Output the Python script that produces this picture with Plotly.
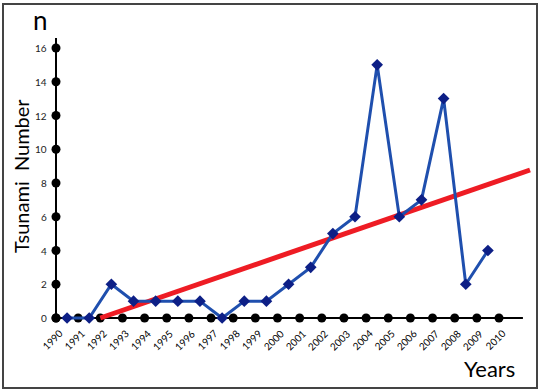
import plotly.graph_objects as go

# ---- data ----
axis_years = list(range(1990, 2011))
y_ticks = [0, 2, 4, 6, 8, 10, 12, 14, 16]
point_years = [1990.5, 1991.5, 1992.5, 1993.5, 1994.5, 1995.5, 1996.5, 1997.5, 1998.5, 1999.5,
               2000.5, 2001.5, 2002.5, 2003.5, 2004.5, 2005.5, 2006.5, 2007.5, 2008.5, 2009.5]
tsunami_counts = [0, 0, 2, 1, 1, 1, 1, 0, 1, 1, 2, 3, 5, 6, 15, 6, 7, 13, 2, 4]
trend_x = [1992.0, 2011.4]
trend_y = [0.0, 8.77]

W, H = 540, 392
FONT = "Lato"

fig = go.Figure()

# axis lines
fig.add_shape(type="line", x0=1990, x1=2011.08, y0=0, y1=0,
              line=dict(color="black", width=2), layer="below")
fig.add_shape(type="line", x0=1990, x1=1990, y0=0, y1=16.59,
              line=dict(color="black", width=2), layer="below")

# axis dots
fig.add_trace(go.Scatter(x=axis_years, y=[0] * len(axis_years), mode="markers",
                         marker=dict(color="black", size=9), hoverinfo="skip", cliponaxis=False))
fig.add_trace(go.Scatter(x=[1990] * len(y_ticks), y=y_ticks, mode="markers",
                         marker=dict(color="black", size=9), hoverinfo="skip", cliponaxis=False))

# trend line
fig.add_trace(go.Scatter(x=trend_x, y=trend_y, mode="lines",
                         line=dict(color="#ee1c24", width=5), hoverinfo="skip", cliponaxis=False))

# data line
fig.add_trace(go.Scatter(x=point_years, y=tsunami_counts, mode="lines+markers",
                         line=dict(color="#1f4fae", width=3),
                         marker=dict(symbol="diamond", size=9, color="#0d1f86"),
                         cliponaxis=False))

annotations = []
for yr in axis_years:
    annotations.append(dict(x=yr, y=0, xref="x", yref="y", text=str(yr), showarrow=False,
                            textangle=-45, xshift=-4, yshift=-22,
                            xanchor="center", yanchor="middle",
                            font=dict(family=FONT, size=10, color="black")))
for v in y_ticks:
    annotations.append(dict(x=1990, y=v, xref="x", yref="y", text=str(v), showarrow=False,
                            xanchor="right", yanchor="middle", xshift=-7,
                            font=dict(family=FONT, size=10, color="#222")))
annotations.append(dict(x=40 / W, y=1 - 20 / H, xref="paper", yref="paper", text="n",
                        xanchor="center", yanchor="middle",
                        showarrow=False, font=dict(family=FONT, size=26, color="black")))
annotations.append(dict(x=21 / W, y=1 - 176 / H, xref="paper", yref="paper", text="Tsunami  Number",
                        xanchor="center", yanchor="middle",
                        showarrow=False, textangle=-90, font=dict(family=FONT, size=20, color="black")))
annotations.append(dict(x=489 / W, y=1 - 368 / H, xref="paper", yref="paper", text="Years",
                        xanchor="center", yanchor="middle",
                        showarrow=False, font=dict(family=FONT, size=22, color="black")))

# frame
fig.add_shape(type="rect", xref="paper", yref="paper", x0=3 / W, x1=537 / W, y0=1 - 388 / H, y1=1 - 4 / H,
              line=dict(color="#444", width=2))

fig.update_layout(
    width=W, height=H, margin=dict(l=0, r=0, t=0, b=0),
    paper_bgcolor="white", plot_bgcolor="white", showlegend=False,
    xaxis=dict(visible=False, range=[1987.472, 2011.851]),
    yaxis=dict(visible=False, range=[-4.385, 18.844]),
    annotations=annotations,
)

fig.write_html("out.html", config={"displayModeBar": False},
               post_script="document.body.style.margin='0';document.body.style.overflow='hidden';")
